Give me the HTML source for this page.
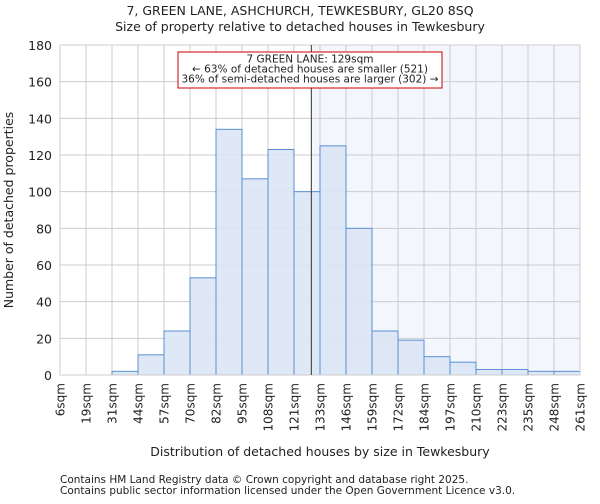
<!DOCTYPE html>
<html><head><meta charset="utf-8"><style>
body{margin:0;background:#fff;font-family:"DejaVu Sans","Liberation Sans",sans-serif}
text{font-family:"DejaVu Sans","Liberation Sans",sans-serif;fill:#222}
</style></head><body>
<svg id="c" width="600" height="500"></svg>
<script>
const edges=[6,19,31,44,57,70,82,95,108,121,133,146,159,172,184,197,210,223,235,248,261];
const counts=[0,0,2,11,24,53,134,107,123,100,125,80,24,19,10,7,3,3,2,2];
const yTicks=[0,20,40,60,80,100,120,140,160,180];
const marker=129;
const L=60,R=580,T=45,B=375,yMax=180;
const ns="http://www.w3.org/2000/svg",svg=document.getElementById('c');
const bw=(R-L)/counts.length;
function x(i){return L+i*bw;}
function xv(v){for(let i=0;i<edges.length-1;i++){if(v<=edges[i+1])return x(i)+(v-edges[i])/(edges[i+1]-edges[i])*bw;}return R;}
function y(v){return B-v/yMax*(B-T);}
function mk(t,a,p){const e=document.createElementNS(ns,t);for(const k in a)e.setAttribute(k,a[k]);(p||svg).appendChild(e);return e;}
const mx=xv(marker);
let s=mk('rect',{x:mx,y:T,width:R-mx,height:B-T,fill:'#f3f6fd'});


yTicks.forEach(v=>{let g=mk('line',{x1:L,x2:R,y1:y(v),y2:y(v),stroke:'#ccc'});


let t=mk('text',{x:L-8,y:y(v)+5,'text-anchor':'end','font-size':12.5});t.textContent=v;

});
edges.forEach((v,i)=>{let g=mk('line',{x1:x(i),x2:x(i),y1:T,y2:B,stroke:'#ccc'});


let t=mk('text',{transform:`translate(${x(i)+4.5},${B+8}) rotate(-90)`,'text-anchor':'end','font-size':12});t.textContent=v+'sqm';

});
counts.forEach((c,i)=>{if(c<=0)return;let r=mk('rect',{x:x(i),y:y(c),width:bw,height:B-y(c),fill:'#dce6f4','fill-opacity':0.9,stroke:'#5b8fd4','stroke-width':1});

});
let ax=mk('rect',{x:L,y:T,width:R-L,height:B-T,fill:'none',stroke:'#ccc'});


let ml=mk('line',{x1:mx,x2:mx,y1:T,y2:B,stroke:'#333','stroke-width':1});


let bx=mk('rect',{x:178,y:52,width:264,height:36,fill:'#fff',stroke:'#c00','stroke-width':1});


["7 GREEN LANE: 129sqm","← 63% of detached houses are smaller (521)","36% of semi-detached houses are larger (302) →"].forEach((l,i)=>{let t=mk('text',{x:310,y:62.5+i*10,'text-anchor':'middle','font-size':10.5});t.textContent=l;

});
function txt(s,a,n){let t=mk('text',a);t.textContent=s;}
txt("7, GREEN LANE, ASHCHURCH, TEWKESBURY, GL20 8SQ",{x:300,y:15,'text-anchor':'middle','font-size':12.5},'chart-title');
txt("Size of property relative to detached houses in Tewkesbury",{x:300,y:31,'text-anchor':'middle','font-size':12.5},'chart-subtitle');
txt("Distribution of detached houses by size in Tewkesbury",{x:320,y:456,'text-anchor':'middle','font-size':12.5},'x-axis-title');
txt("Number of detached properties",{transform:'translate(13,210) rotate(-90)','text-anchor':'middle','font-size':12.5},'y-axis-title');
txt("Contains HM Land Registry data © Crown copyright and database right 2025.",{x:60,y:483,'font-size':10.5,fill:'#555'},'footer-line-1');
txt("Contains public sector information licensed under the Open Government Licence v3.0.",{x:60,y:494,'font-size':10.5,fill:'#555'},'footer-line-2');
</script></body></html>
